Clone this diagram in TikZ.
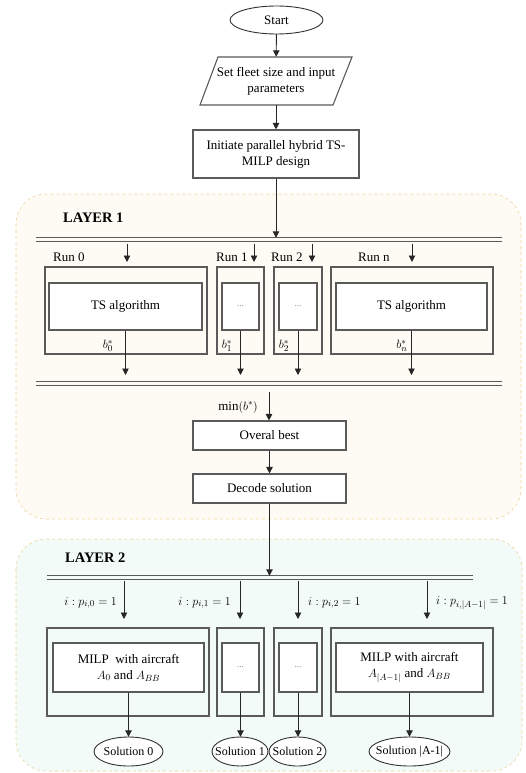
\documentclass[tikz,border=0pt]{standalone}
\usepackage{fontspec}
\setmainfont{Liberation Serif}
\usetikzlibrary{arrows.meta,shapes.geometric}
\definecolor{layeronefill}{HTML}{FDFBF4}
\definecolor{layertwofill}{HTML}{F2FBF7}
\definecolor{layerborder}{HTML}{F0D39C}
\definecolor{boxline}{HTML}{5A5A5A}
\tikzset{
  txt/.style={font=\fontsize{13}{16}\selectfont, text=black},
  box/.style={txt, draw=boxline, line width=1.1pt, fill=white, inner sep=0pt, align=center},
  frame/.style={draw=boxline, line width=1.1pt, inner sep=0pt},
  ghost/.style={txt, inner sep=0pt, align=center},
  arr/.style={-{Triangle[length=6.5pt,width=6.5pt]}, line width=0.9pt, draw=black!85},
  barline/.style={draw=boxline, line width=0.9pt},
  layer/.style={draw=layerborder, dashed, line width=0.6pt, rounded corners=30pt},
  termline/.style={draw=black!80, line width=0.9pt, fill=white},
  dotsbox/.style={box, font=\fontsize{9}{10}\selectfont, text=gray},
  lbl/.style={txt, inner sep=0pt},
  heading/.style={font=\fontsize{14.5}{16}\selectfont\bfseries, inner sep=0pt, anchor=west},
}
\begin{document}
\begin{tikzpicture}[x=1pt,y=-1pt]
\useasboundingbox (0,0) rectangle (525,773);
% layers
\draw[layer, fill=layeronefill] (16,194) rectangle (521,519);
\draw[layer, fill=layertwofill] (16,539) rectangle (522,771);
\node[heading] (l1) at (63,218) {LAYER 1};
\node[heading] (l2) at (65,558) {LAYER 2};

% top part
\node[ghost, minimum width=93pt, minimum height=28pt] (start) at (276.5,20) {};
\draw[termline] (start.center) ellipse [x radius=46.5pt, y radius=14pt];
\node[lbl] at (start.center) {Start};

\node[ghost, minimum width=134pt, minimum height=48pt] (para) at (276,81) {};
\draw[draw=boxline, line width=1.1pt, fill=white] (218,57) -- (352,57) -- (333,105) -- (200,105) -- cycle;
\node[ghost] at (para.center) {Set fleet size and input\\parameters};

\node[box, minimum width=166pt, minimum height=48pt] (init) at (276,154) {Initiate parallel hybrid TS-\\MILP design};

\draw[arr] (start) -- (para);
\draw[arr] (para) -- (init);

% layer 1 bars
\node[inner sep=0pt, minimum width=466pt, minimum height=3pt] (bar1) at (269,239.5) {};
\draw[barline] (bar1.north west) -- (bar1.north east) (bar1.south west) -- (bar1.south east);
\node[inner sep=0pt, minimum width=466pt, minimum height=3pt] (bar2) at (269,383.5) {};
\draw[barline] (bar2.north west) -- (bar2.north east) (bar2.south west) -- (bar2.south east);
\draw[arr] (init) -- (init |- bar1.north);

% run boxes
\node[frame, minimum width=162pt, minimum height=87pt] (o0) at (126,310.5) {};
\node[box, minimum width=153pt, minimum height=47pt] (t0) at (125.5,306.5) {TS algorithm};
\node[frame, minimum width=47pt, minimum height=87pt] (o1) at (240.5,310.5) {};
\node[dotsbox, minimum width=37pt, minimum height=47pt] (t1) at (240.5,306.5) {...};
\node[frame, minimum width=48pt, minimum height=87pt] (o2) at (298,310.5) {};
\node[dotsbox, minimum width=38pt, minimum height=47pt] (t2) at (298,306.5) {...};
\node[frame, minimum width=162pt, minimum height=87pt] (on) at (412,310.5) {};
\node[box, minimum width=151pt, minimum height=47pt] (tn) at (411.5,306.5) {TS algorithm};

\node[lbl, anchor=west] (run0) at (53,257) {Run 0};
\node[lbl, anchor=west] (run1) at (216,257) {Run 1};
\node[lbl, anchor=west] (run2) at (271,257) {Run 2};
\node[lbl, anchor=west] (runn) at (358,257) {Run n};

\foreach \nm/\xx in {a/127,b/254,c/312,d/412}{
  \coordinate (s\nm) at (\xx,244);
  \coordinate (e\nm) at (\xx,262);
  \draw[arr] (s\nm) -- (e\nm);
}
\coordinate (bot1) at (0,375);
\draw[arr] (t0) -- (t0 |- bot1);
\draw[arr] (t1) -- (t1 |- bot1);
\draw[arr] (t2) -- (t2 |- bot1);
\draw[arr] (tn) -- (tn |- bot1);

\node[lbl] (b0) at (108,346) {$b_0^*$};
\node[lbl] (b1) at (227,346) {$b_1^*$};
\node[lbl] (b2) at (284,346) {$b_2^*$};
\node[lbl] (bn) at (402,346) {$b_n^*$};

\node[box, minimum width=153pt, minimum height=29pt] (best) at (269.5,435.5) {Overal best};
\node[box, minimum width=153pt, minimum height=29pt] (dec) at (269.5,488.5) {Decode solution};
\coordinate (minst) at (269,392);
\draw[arr] (minst) -- (minst |- best.north);
\node[lbl, anchor=east] (minl) at (258,407) {$\min(b^*)$};
\draw[arr] (best) -- (dec);

% layer 2
\node[inner sep=0pt, minimum width=426pt, minimum height=3pt] (bar3) at (260,577.5) {};
\draw[barline] (bar3.north west) -- (bar3.north east) (bar3.south west) -- (bar3.south east);
\draw[arr] (dec) -- (dec |- bar3.north);

\foreach \nm/\xx in {a/124,b/240,c/298,d/427}{
  \coordinate (u\nm) at (\xx,581);
  \coordinate (v\nm) at (\xx,619);
  \draw[arr] (u\nm) -- (v\nm);
}
\node[lbl, anchor=east] (p0) at (117,603) {$i:p_{i,0}=1$};
\node[lbl, anchor=east] (p1) at (231,603) {$i:p_{i,1}=1$};
\node[lbl, anchor=west] (p2) at (308,603) {$i:p_{i,2}=1$};
\node[lbl, anchor=west] (pn) at (436,603) {$i:p_{i,|A-1|}=1$};

\node[frame, minimum width=162pt, minimum height=88pt] (q0) at (128,672) {};
\node[box, minimum width=151pt, minimum height=49pt] (m0) at (128.5,667.5) {MILP\ \ with aircraft\\$A_0$ and $A_{BB}$};
\node[frame, minimum width=47pt, minimum height=88pt] (q1) at (240.5,672) {};
\node[dotsbox, minimum width=37pt, minimum height=49pt] (m1) at (240.5,667.5) {...};
\node[frame, minimum width=48pt, minimum height=88pt] (q2) at (298,672) {};
\node[dotsbox, minimum width=38pt, minimum height=49pt] (m2) at (298,667.5) {...};
\node[frame, minimum width=162pt, minimum height=88pt] (qn) at (412,672) {};
\node[box, minimum width=147pt, minimum height=49pt] (mn) at (409.5,667.5) {MILP with aircraft\\$A_{|A-1|}$ and $A_{BB}$};

% solutions
\foreach \nm/\xx/\ww/\soltext in {0/128.5/69/{Solution 0},1/240/56/{Solution 1},2/297.5/57/{Solution 2},n/409.5/81/{Solution |A-1|}}{
  \node[ghost, minimum width=\ww pt, minimum height=29pt] (sol\nm) at (\xx,751.5) {};
  \draw[termline] (sol\nm.center) ellipse [x radius=\ww/2, y radius=14.5];
  \node[lbl, font=\fontsize{12}{14}\selectfont] at (sol\nm.center) {\soltext};
}
\draw[arr] (m0) -- (m0 |- sol0.north);
\draw[arr] (m1) -- (m1 |- sol1.north);
\draw[arr] (m2) -- (m2 |- sol2.north);
\draw[arr] (mn) -- (mn |- soln.north);
\end{tikzpicture}
\end{document}
